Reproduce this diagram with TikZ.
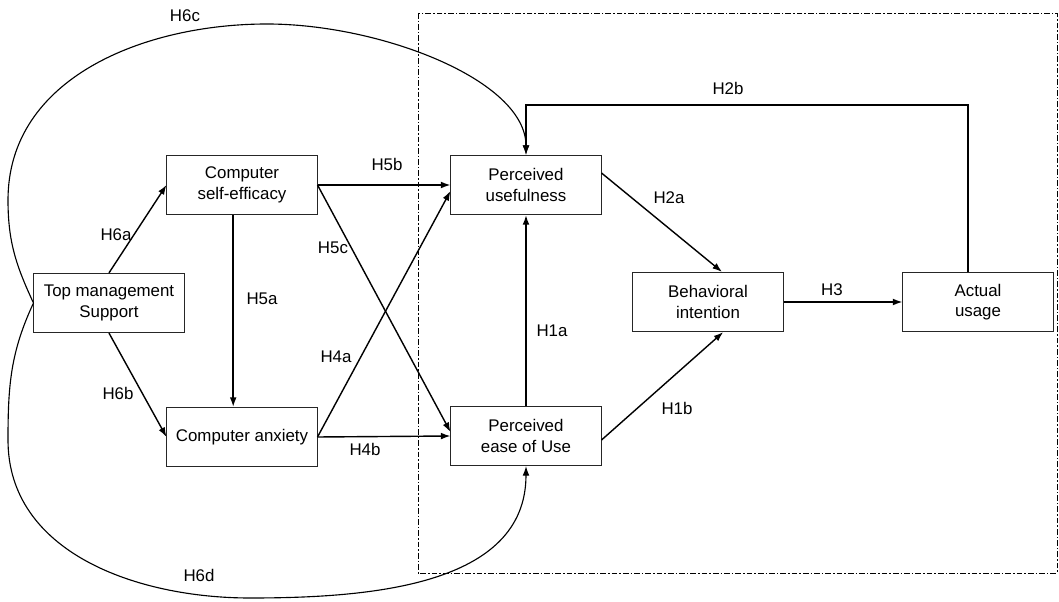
\documentclass[tikz,border=0pt]{standalone}
\usepackage{fontspec}
\setmainfont{Liberation Sans}
\usetikzlibrary{positioning,arrows.meta,calc}

\begin{document}
\begin{tikzpicture}[
        x=0.025cm, y=-0.025cm,
        >={Latex[length=2.4mm,width=1.7mm]},
        construct/.style={rectangle, draw=black!85, line width=0.7pt, minimum width=3.75cm, minimum height=1.48cm, align=center, inner sep=1pt, font=\fontsize{12}{14.5}\selectfont},
        hyp/.style={font=\fontsize{12}{14}\selectfont},
        link/.style={->, line width=1pt},
        curvelink/.style={->, line width=0.8pt}
    ]
        \useasboundingbox (0,0) rectangle (1059,602);

        % Frame
        \draw[line width=0.5pt, dash pattern=on 4pt off 1.5pt on 1pt off 1.5pt] (418,13) rectangle (1057,573);

        % Constructs
        \node (tms) at (109,303) [construct] {Top management\\Support};
        \node (cse) at (242,185) [construct] {Computer\\self-efficacy};
        \node (ca) at (242,437) [construct] {Computer anxiety};
        \node (pu) at (526,185) [construct] {Perceived\\usefulness};
        \node (peou) at (526,436) [construct] {Perceived\\ease of Use};
        \node (bi) at (708,302) [construct] {Behavioral\\intention};
        \node (au) at (978,302) [construct] {Actual\\usage};

        % Hypotheses
        \node (h6c) at (185,16) [hyp] {H6c};
        \node (h2b) at (728,88) [hyp] {H2b};
        \node (h5b) at (387,164) [hyp] {H5b};
        \node (h6a) at (116,235) [hyp] {H6a};
        \node (h2a) at (669,198) [hyp] {H2a};
        \node (h5c) at (333,248) [hyp] {H5c};
        \node (h5a) at (262,299) [hyp] {H5a};
        \node (h3) at (832,290) [hyp] {H3};
        \node (h1a) at (552,331) [hyp] {H1a};
        \node (h4a) at (336,357) [hyp] {H4a};
        \node (h6b) at (118,393) [hyp] {H6b};
        \node (h1b) at (677,408) [hyp] {H1b};
        \node (h4b) at (365,449) [hyp] {H4b};
        \node (h6d) at (199,575) [hyp] {H6d};

        % Arrows
        \draw[link] (tms.north) -- (cse.west);
        \draw[link] (tms.south) -- (ca.west);
        \draw[link] ([xshift=-2.2mm]cse.south) -- ([xshift=-2.2mm]ca.north);
        \draw[link] (cse.east) -- (pu.west);
        \draw[link] (cse.east) -- ([yshift=1mm]peou.west);
        \draw[link] (ca.east) -- ([yshift=-1.5mm]pu.west);
        \draw[link] (ca.east) -- (peou.west);
        \draw[link] (peou.north) -- (pu.south);
        \draw[link] ([yshift=3mm]pu.east) -- ([xshift=3.5mm]bi.north);
        \draw[link] ([yshift=-1mm]peou.east) -- ([xshift=3.8mm]bi.south);
        \draw[link] (bi.east) -- (au.west);
        \coordinate (h2btop) at (700,105);
        \draw[link] ([xshift=-2.5mm]au.north) |- (h2btop) -| (pu.north);

        % Curves
        \draw[curvelink] (tms.west) to[out=115,in=270] (8,200) to[out=90,in=180] (267,24)
            .. controls (380,24) and (526,80) .. (pu.north);
        \draw[curvelink] (tms.west) to[out=245,in=90] (8,440) to[out=270,in=180] (250,598) to[out=0,in=270] (peou.south);
    \end{tikzpicture}
\end{document}
